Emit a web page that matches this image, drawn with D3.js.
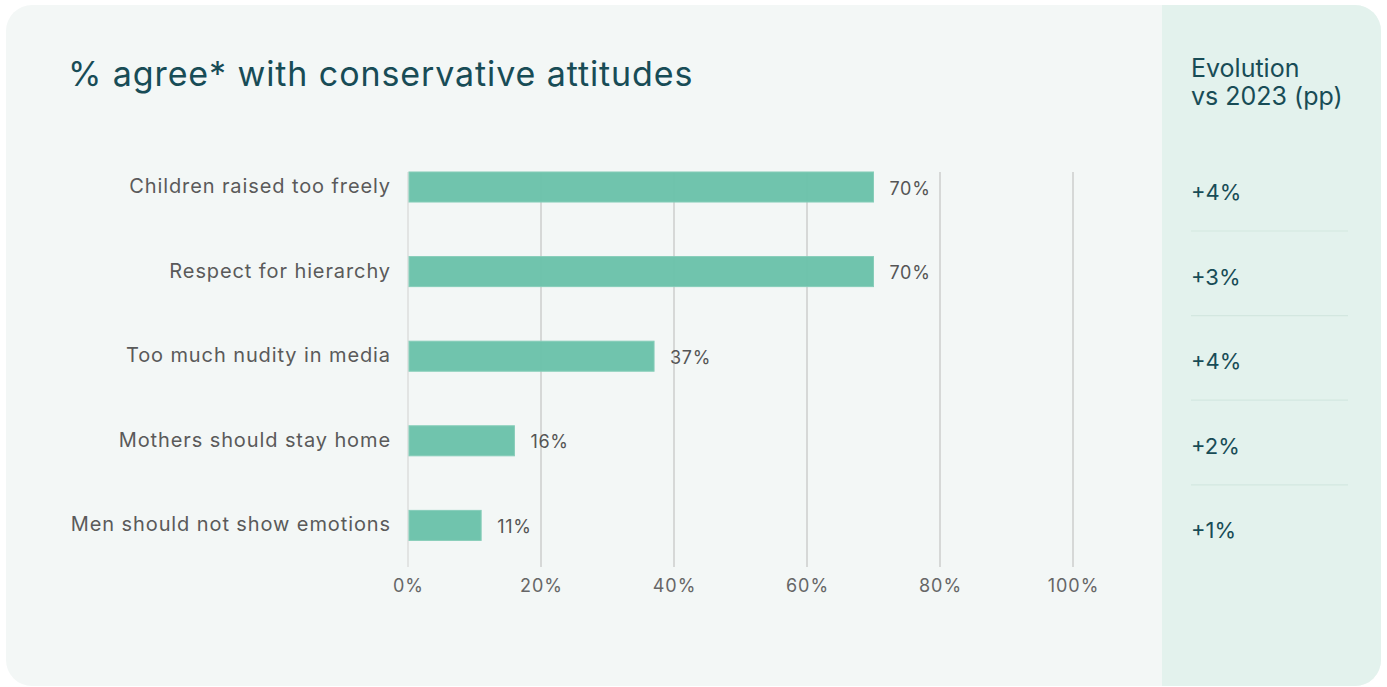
<!DOCTYPE html>
<html>
<head>
<meta charset="utf-8">
<script src="https://cdn.jsdelivr.net/npm/d3@7"></script>
<style>
html,body{margin:0;padding:0;background:#ffffff;}
svg{display:block;}
</style>
</head>
<body>
<svg id="chart" width="1387" height="687"></svg>
<script>
const categories = ["Children raised too freely","Respect for hierarchy","Too much nudity in media","Mothers should stay home","Men should not show emotions"];
const values = [70, 70, 37, 16, 11];
const evolution = ["+4%","+3%","+4%","+2%","+1%"];
const xTicks = [0, 20, 40, 60, 80, 100];
const titleText = "% agree* with conservative attitudes";
const panelTitle = ["Evolution","vs 2023 (pp)"];

const svg = d3.select("#chart");

const clip = svg.append("defs").append("clipPath").attr("id","cardclip");
clip.append("rect").attr("x",6).attr("y",5).attr("width",1375).attr("height",681).attr("rx",26);
svg.append("rect").attr("x",6).attr("y",5).attr("width",1375).attr("height",681).attr("rx",26).attr("fill","#f3f7f6");
svg.append("rect").attr("x",1162).attr("y",0).attr("width",230).attr("height",700)
  .attr("fill","#e3f2ed").attr("clip-path","url(#cardclip)");

const font = "Inter, 'Open Sans', sans-serif";

svg.append("text").attr("x",68).attr("y",86).text(titleText)
  .attr("font-family",font).attr("font-size",34).attr("letter-spacing",0.9).attr("fill","#184c56");

const x = d3.scaleLinear().domain([0,100]).range([408,1073]);
const y = d3.scaleBand().domain(categories).range([144.7,567.7]).paddingInner(0.645).paddingOuter(0.3225);

// gridlines
svg.append("g").selectAll("line").data(xTicks).join("line")
  .attr("x1",d=>x(d)).attr("x2",d=>x(d)).attr("y1",172).attr("y2",567)
  .attr("stroke",d=>d===0?"#e2e4e3":"#d6d8d7").attr("stroke-width",2);

// bars
svg.append("g").selectAll("rect").data(values).join("rect")
  .attr("x",x(0)+1).attr("y",(d,i)=>y(categories[i]))
  .attr("width",d=>x(d)-x(0)-1).attr("height",y.bandwidth())
  .attr("fill","#6bc2aa").attr("fill-opacity",0.97)
  .attr("stroke","#86cdb9").attr("stroke-width",1);

// value labels
svg.append("g").selectAll("text").data(values).join("text")
  .attr("x",d=>x(d)+16).attr("y",(d,i)=>y(categories[i])+y.bandwidth()/2+1)
  .attr("dominant-baseline","central")
  .attr("font-family",font).attr("font-size",18).attr("letter-spacing",0.7).attr("fill","#555555")
  .text(d=>d+"%");

// category labels
svg.append("g").selectAll("text").data(categories).join("text")
  .attr("x",391).attr("y",d=>y(d)+y.bandwidth()/2-1)
  .attr("text-anchor","end").attr("dominant-baseline","central")
  .attr("font-family",font).attr("font-size",20).attr("letter-spacing",0.9).attr("fill","#5a5a5a")
  .text(d=>d);

// x axis tick labels
const xAxis = d3.axisBottom(x).tickValues(xTicks).tickFormat(d=>d+"%").tickSize(0).tickPadding(0);
const ax = svg.append("g").attr("transform","translate(0,579)").call(xAxis);
ax.select(".domain").remove();
ax.selectAll("text").attr("font-family",font).attr("font-size",18).attr("letter-spacing",1).attr("fill","#666666");

// right panel
svg.append("g").selectAll("text").data(panelTitle).join("text")
  .attr("x",1191).attr("y",(d,i)=>77+i*28).text(d=>d)
  .attr("font-family",font).attr("font-size",25).attr("fill","#184c56");

svg.append("g").selectAll("text").data(evolution).join("text")
  .attr("x",1191).attr("y",(d,i)=>y(categories[i])+y.bandwidth()/2+5)
  .attr("dominant-baseline","central")
  .attr("font-family",font).attr("font-size",22).attr("fill","#184c56")
  .text(d=>d);

svg.append("g").selectAll("line").data(categories.slice(0,4)).join("line")
  .attr("x1",1191).attr("x2",1348)
  .attr("y1",d=>y(d)+y.bandwidth()/2+44).attr("y2",d=>y(d)+y.bandwidth()/2+44)
  .attr("stroke","#d3e7e0").attr("stroke-width",1.2);
</script>
</body>
</html>
